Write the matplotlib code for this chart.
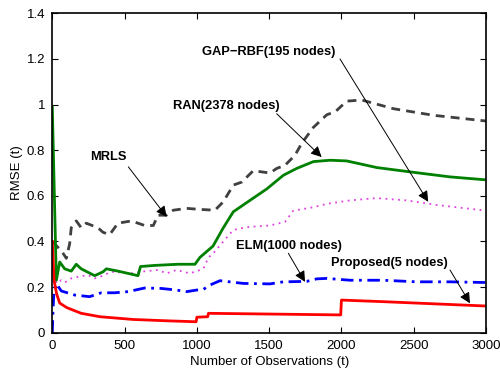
import matplotlib
matplotlib.use("Agg")
import matplotlib.pyplot as plt

# values
mrls_x = [5, 30, 62, 97, 120, 131, 166, 200, 235, 316, 351, 397, 454, 547, 639, 699, 731, 789, 837, 930,
          1033, 1125, 1183, 1252, 1310, 1390, 1506, 1552, 1610, 1679, 1725, 1806, 1898, 1960, 2036, 2140,
          2359, 2636, 2970, 3000]
mrls_y = [0.40, 0.38, 0.36, 0.326, 0.39, 0.46, 0.49, 0.46, 0.48, 0.46, 0.44, 0.43, 0.48, 0.49, 0.47, 0.47,
          0.515, 0.515, 0.537, 0.545, 0.54, 0.537, 0.574, 0.647, 0.66, 0.71, 0.70, 0.72, 0.734, 0.778,
          0.83, 0.90, 0.955, 0.97, 1.015, 1.02, 0.982, 0.953, 0.93, 0.928]

ran_x = [0, 28, 51, 86, 131, 166, 200, 293, 351, 374, 454, 593, 610, 708, 869, 987, 1021, 1112, 1183,
         1252, 1344, 1367, 1483, 1598, 1690, 1806, 1921, 2036, 2244, 2474, 2751, 3000]
ran_y = [0.99, 0.23, 0.31, 0.28, 0.27, 0.30, 0.28, 0.25, 0.267, 0.28, 0.27, 0.25, 0.29, 0.295, 0.30, 0.30,
         0.33, 0.38, 0.46, 0.53, 0.57, 0.58, 0.63, 0.69, 0.72, 0.75, 0.756, 0.753, 0.724, 0.705, 0.683, 0.67]

gap_x = [5, 30, 62, 86, 131, 178, 247, 293, 330, 408, 570, 607, 731, 791, 858, 952, 1045, 1080, 1114,
         1183, 1252, 1298, 1367, 1506, 1610, 1667, 1806, 1900, 2059, 2244, 2451, 2659, 3000]
gap_y = [0.28, 0.216, 0.23, 0.22, 0.238, 0.245, 0.253, 0.238, 0.245, 0.267, 0.26, 0.267, 0.275, 0.26,
         0.275, 0.26, 0.28, 0.33, 0.348, 0.40, 0.45, 0.457, 0.464, 0.47, 0.486, 0.535, 0.55, 0.565, 0.58,
         0.59, 0.58, 0.56, 0.535]

elm_x = [0, 5, 12, 28, 62, 155, 258, 339, 431, 524, 639, 754, 858, 930, 999, 1045, 1091, 1160, 1321,
         1506, 1598, 1760, 1829, 1898, 2059, 2290, 2520, 2751, 3000]
elm_y = [0.0, 0.10, 0.187, 0.215, 0.183, 0.165, 0.158, 0.175, 0.175, 0.18, 0.196, 0.194, 0.187, 0.18,
         0.187, 0.19, 0.209, 0.228, 0.216, 0.214, 0.223, 0.225, 0.236, 0.238, 0.23, 0.23, 0.223, 0.223, 0.22]

prop_x = [0, 12, 30, 51, 100, 200, 330, 560, 800, 995, 1000, 1075, 1080, 1995, 2000, 2290, 3000]
prop_y = [0.40, 0.23, 0.17, 0.13, 0.11, 0.085, 0.07, 0.058, 0.052, 0.048, 0.068, 0.07, 0.085, 0.078,
          0.143, 0.136, 0.117]

# label text, text position, arrow start, arrow tip
labels = ["GAP\u2212RBF(195 nodes)", "RAN(2378 nodes)", "MRLS", "ELM(1000 nodes)", "Proposed(5 nodes)"]
label_pos = [(1499, 1.229), (1201, 0.993), (389, 0.769), (1638, 0.38), (2329, 0.304)]
arrow_from = [(1990, 1.20), (1552, 0.96), (526, 0.727), (1633, 0.348), (2751, 0.275)]
arrow_to = [(2600, 0.574), (1863, 0.77), (791, 0.508), (1748, 0.223), (2889, 0.129)]

x_ticks = [0, 500, 1000, 1500, 2000, 2500, 3000]
y_ticks = [0, 0.2, 0.4, 0.6, 0.8, 1.0, 1.2, 1.4]
y_tick_labels = ["0", "0.2", "0.4", "0.6", "0.8", "1", "1.2", "1.4"]


def create_plot():
    plt.rcParams["font.family"] = ["Liberation Sans", "DejaVu Sans"]
    fig = plt.figure(figsize=(5, 3.7), dpi=100)
    ax = fig.add_axes([0.1046, 0.1008, 0.8674, 0.8632])

    ax.plot(mrls_x, mrls_y, color="#404040", lw=2.0, linestyle=(0, (3.2, 2.2)))
    ax.plot(gap_x, gap_y, color="#e040e0", lw=1.3, linestyle=(0, (1, 2.5)))
    ax.plot(elm_x, elm_y, color="#0000ff", lw=2.0, linestyle=(0, (4.5, 2, 1, 2)))
    ax.plot(ran_x, ran_y, color="#008000", lw=2.0)
    ax.plot(prop_x, prop_y, color="#ff0000", lw=2.0)

    for text, pos, start, tip in zip(labels, label_pos, arrow_from, arrow_to):
        ax.text(pos[0], pos[1], text, ha="center", va="center", fontsize=9.3, fontweight="bold")
        ax.annotate("", xy=tip, xytext=start,
                    arrowprops=dict(arrowstyle="-|>", color="k", lw=0.7, mutation_scale=16,
                                    shrinkA=0, shrinkB=0))

    ax.set_xlim(0, 3000)
    ax.set_ylim(0, 1.4)
    ax.set_xticks(x_ticks)
    ax.set_yticks(y_ticks)
    ax.set_yticklabels(y_tick_labels)
    ax.tick_params(direction="in", top=True, right=True, length=4, width=0.8, labelsize=9.5, pad=5)
    for spine in ax.spines.values():
        spine.set_linewidth(1.2)
    ax.set_xlabel("Number of Observations (t)", fontsize=9.5, labelpad=3)
    ax.set_ylabel("RMSE (t)", fontsize=9.5, labelpad=3)

    fig.savefig("out.png", dpi=100)


if __name__ == "__main__":
    create_plot()
